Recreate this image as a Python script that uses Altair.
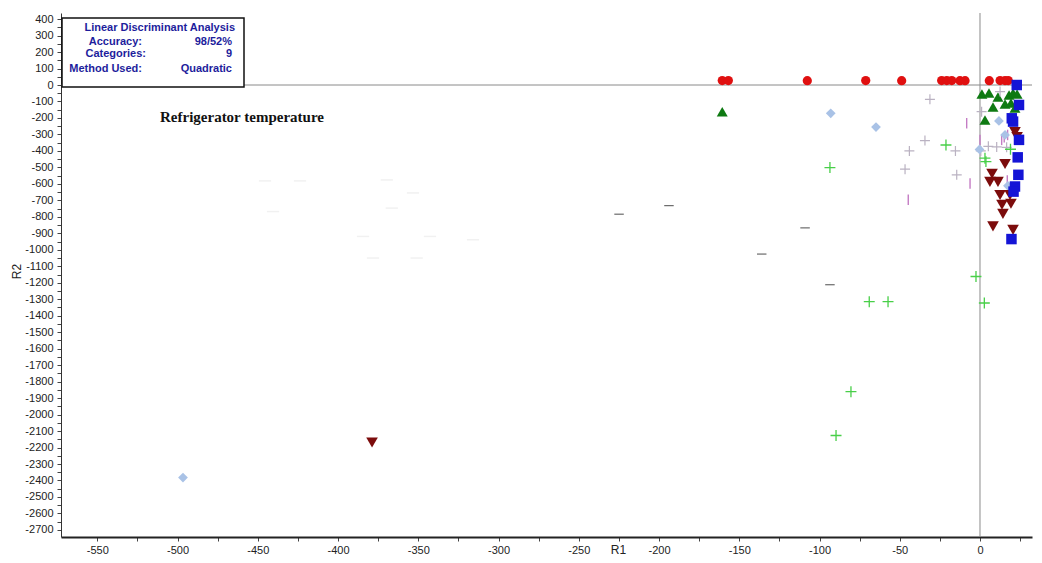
import altair as alt
import pandas as pd

# ---------------- data ----------------
red_x = [-160.6, -156.8, -107.6, -71.2, -48.8, -23.9, -20.7, -17.6, -12.5, -9.3, 5.8, 12.5, 15.6, 17.6]
red_y = [27, 27, 26, 27, 26, 27, 27, 27, 26, 26, 26, 27, 27, 27]

gtri_x = [-160.6, 1.2, 5.6, 11.2, 15.6, 18.1, 20.6, 23.1, 8.1, 19.3, 3.1, 21.8]
gtri_y = [-162, -55, -48, -73, -115, -61, -48, -55, -133, -109, -212, -139]

blue_x = [22.9, 24.3, 19.8, 20.6, 24.3, 23.5, 23.9, 21.8, 20.9, 19.6]
blue_y = [0, -121, -202, -222, -333, -439, -545, -616, -647, -935]

diam_x = [-496.6, -93.0, -64.8, 11.8, 15.6, -0.3, 17.4]
diam_y = [-2382, -172, -255, -218, -303, -391, -612]

dtri_x = [-378.8, 21.8, 23.1, 15.6, 7.5, 6.2, 11.2, 12.5, 18.7, 13.7, 19.3, 14.3, 8.1, 20.6]
dtri_y = [-2170, -285, -315, -479, -539, -588, -588, -667, -667, -727, -721, -782, -858, -879]

gplus_x = [-93.5, -21.2, 3.1, 3.7, -2.5, 2.7, -69.0, -57.3, -80.4, -89.7, 19.0]
gplus_y = [-501, -364, -444, -465, -1162, -1323, -1315, -1315, -1861, -2127, -390]

lplus_x = [-31.2, -34.3, -44.0, -15.3, -46.7, -14.5, 0.5, 5.2, 10.4, 16.6, 1.0, 12.5]
lplus_y = [-87, -337, -400, -400, -511, -545, -400, -372, -376, -378, -162, -40]

pbar_x = [-8.3, 0.0, 13.5, 15.1, 17.2, -6.2, -44.7, 17.0]
pbar_y = [-232, -333, -333, -317, -303, -598, -697, -580]

ddash_x = [-224.9, -193.8, -136.0, -109.0, -93.5]
ddash_y = [-784, -732, -1026, -867, -1212]

fdash_x = [-445.5, -423.7, -440.5, -369.6, -353.3, -366.5, -384.4, -342.7, -315.9, -378.2, -351.0]
fdash_y = [-582, -582, -768, -576, -655, -747, -919, -919, -939, -1050, -1050]

x_ticks = list(range(-550, 26, 25))
y_ticks = list(range(-2700, 401, 50))

box_lines = ["Linear Discriminant Analysis", "Accuracy:", "98/52%", "Categories:", "9", "Method Used:", "Quadratic"]
chart_title = "Refrigerator temperature"

# ---------------- scales & axes ----------------
XS = alt.Scale(domain=[-572.6, 32.4], nice=False, zero=False)
YS = alt.Scale(domain=[-2743, 437], nice=False, zero=False)

xaxis = alt.Axis(values=x_ticks, labelExpr="datum.value % 50 == 0 ? toString(datum.value) : ''",
                 grid=False, domainColor="#222222", domainWidth=2, tickColor="#444444",
                 tickSize=4, labelFont="Liberation Sans", labelFontSize=11, labelColor="#222222",
                 labelPadding=3, title="R1", titleFont="Liberation Sans", titleFontSize=12,
                 titleFontWeight="normal", titleColor="#222222", titleX=557, titleY=7,
                 titleBaseline="top", labelOverlap=False, labelFlush=False)
yaxis = alt.Axis(values=y_ticks, labelExpr="datum.value % 100 == 0 ? toString(datum.value) : ''",
                 grid=False, domainColor="#333333", domainWidth=1, tickColor="#444444",
                 tickSize=4, labelFont="Liberation Sans", labelFontSize=11, labelColor="#222222",
                 labelPadding=4, title="R2", titleFont="Liberation Sans", titleFontSize=12,
                 titleFontWeight="normal", titleColor="#222222", titleX=-45, titleY=258,
                 titleAngle=270, titleAlign="center", titleBaseline="middle",
                 labelOverlap=False, labelFlush=False)


def pts(xs, ys):
    return pd.DataFrame({"R1": xs, "R2": ys})


def enc(ch):
    return ch.encode(x=alt.X("R1:Q", scale=XS, axis=xaxis), y=alt.Y("R2:Q", scale=YS, axis=yaxis))


PLUS = "M-1,0H1M0,-1V1"
VBAR = "M0,-1V1"
HBAR = "M-1,0H1"

zero_v = alt.Chart(pd.DataFrame({"R1": [0]})).mark_rule(color="#8a8a8a", strokeWidth=1).encode(
    x=alt.X("R1:Q", scale=XS, axis=xaxis))
zero_h = alt.Chart(pd.DataFrame({"R2": [0]})).mark_rule(color="#8a8a8a", strokeWidth=1).encode(
    y=alt.Y("R2:Q", scale=YS, axis=yaxis))

faint = enc(alt.Chart(pts(fdash_x, fdash_y)).mark_point(shape=HBAR, filled=False, color="#f1f1f1", size=150, strokeWidth=1.5, opacity=1))
ddash = enc(alt.Chart(pts(ddash_x, ddash_y)).mark_point(shape=HBAR, filled=False, color="#6a6a6a", size=90, strokeWidth=1.2, opacity=1))
red = enc(alt.Chart(pts(red_x, red_y)).mark_point(shape="circle", filled=True, color="#e01010", size=85, opacity=1))
gtri = enc(alt.Chart(pts(gtri_x, gtri_y)).mark_point(shape="triangle-up", filled=True, color="#0e7a12", size=120, opacity=1))
lplus = enc(alt.Chart(pts(lplus_x, lplus_y)).mark_point(shape=PLUS, filled=False, color="#bab2c2", size=100, strokeWidth=1.2, opacity=1))
pbar = enc(alt.Chart(pts(pbar_x, pbar_y)).mark_point(shape=VBAR, filled=False, color="#c47cc4", size=110, strokeWidth=1.4, opacity=1))
diam = enc(alt.Chart(pts(diam_x, diam_y)).mark_point(shape="diamond", filled=True, color="#a9c2e6", size=95, opacity=1))
dtri = enc(alt.Chart(pts(dtri_x, dtri_y)).mark_point(shape="triangle-down", filled=True, color="#7c0c0c", size=135, opacity=1))
blue = enc(alt.Chart(pts(blue_x, blue_y)).mark_point(shape="square", filled=True, color="#1414d6", size=110, opacity=1))
gplus = enc(alt.Chart(pts(gplus_x, gplus_y)).mark_point(shape=PLUS, filled=False, color="#48cf48", size=120, strokeWidth=1.3, opacity=1))

# ---------------- annotation box ----------------
box = alt.Chart(pd.DataFrame({"a": [0]})).mark_rect(fill="white", stroke="#111111", strokeWidth=1.5).encode(
    x=alt.value(1), x2=alt.value(183), y=alt.value(5), y2=alt.value(74))

BLUE_TXT = "#1d1d9c"


def label(t, x, y, align):
    return alt.Chart(pd.DataFrame({"a": [0]})).mark_text(
        font="Liberation Sans", fontSize=11, fontWeight="bold", color=BLUE_TXT,
        align=align, baseline="middle").encode(x=alt.value(x), y=alt.value(y), text=alt.value(t))


texts = [
    label(box_lines[0], 174, 14.5, "right"),
    label(box_lines[1], 81, 28.5, "right"),
    label(box_lines[2], 171, 28.5, "right"),
    label(box_lines[3], 85, 41, "right"),
    label(box_lines[4], 171, 41, "right"),
    label(box_lines[5], 81, 56, "right"),
    label(box_lines[6], 171, 56, "right"),
]

title = alt.Chart(pd.DataFrame({"a": [0]})).mark_text(
    font="Liberation Serif", fontSize=15, fontWeight="bold", color="#111111",
    align="left", baseline="middle").encode(x=alt.value(99), y=alt.value(104), text=alt.value(chart_title))

chart = alt.layer(
    zero_v, zero_h, faint, ddash, red, gtri, lplus, pbar, diam, dtri, blue, gplus, box, *texts, title
).properties(
    width=971, height=524,
    background="white",
    autosize=alt.AutoSizeParams(type="none"),
    padding={"left": 53, "top": 5, "right": 2, "bottom": 18},
).configure_view(strokeWidth=0, stroke="transparent")

chart.save("out.html", embed_options={"renderer": "svg", "actions": False})
